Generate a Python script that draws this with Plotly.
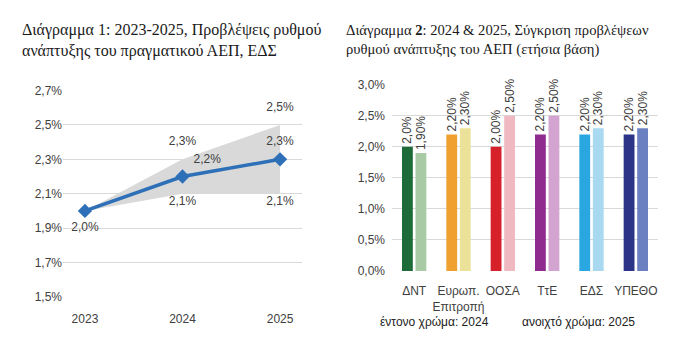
import plotly.graph_objects as go

# ---- Chart 1 data ----
years = ["2023", "2024", "2025"]
central = [2.0, 2.2, 2.3]
upper = [2.0, 2.3, 2.5]
lower = [2.0, 2.1, 2.1]
central_labels = ["2,0%", "2,2%", "2,3%"]
upper_labels = ["", "2,3%", "2,5%"]
lower_labels = ["", "2,1%", "2,1%"]
left_ticks = [1.5, 1.7, 1.9, 2.1, 2.3, 2.5, 2.7]
left_tick_labels = ["1,5%", "1,7%", "1,9%", "2,1%", "2,3%", "2,5%", "2,7%"]

# ---- Chart 2 data ----
institutions = ["ΔΝΤ", "Ευρωπ.<br>Επιτροπή", "ΟΟΣΑ", "ΤτΕ", "ΕΔΣ", "ΥΠΕΘΟ"]
f2024 = [2.0, 2.2, 2.0, 2.2, 2.2, 2.2]
f2025 = [1.9, 2.3, 2.5, 2.5, 2.3, 2.3]
labels2024 = ["2,0%", "2,20%", "2,00%", "2,20%", "2,20%", "2,20%"]
labels2025 = ["1,90%", "2,30%", "2,50%", "2,50%", "2,30%", "2,30%"]
colors2024 = ["#1d6b38", "#f0a02e", "#d7212a", "#8f2a8f", "#2aa7e1", "#2b3486"]
colors2025 = ["#a8caa4", "#ece199", "#f0b9c1", "#d4a4d1", "#a9d9f1", "#6b80c1"]
right_ticks = [0, 0.5, 1.0, 1.5, 2.0, 2.5, 3.0]
right_tick_labels = ["0,0%", "0,5%", "1,0%", "1,5%", "2,0%", "2,5%", "3,0%"]

TXT = "#404040"
SANS = "Liberation Sans"
SERIF = "Liberation Serif"
GRID = "#d9d9d9"

fig = go.Figure()

# band
fig.add_trace(go.Scatter(x=years, y=lower, mode="lines", line=dict(width=0, color=GRID),
                         xaxis="x", yaxis="y", showlegend=False, hoverinfo="skip"))
fig.add_trace(go.Scatter(x=years, y=upper, mode="lines", line=dict(width=0, color=GRID),
                         fill="tonexty", fillcolor="#d9d9d9",
                         xaxis="x", yaxis="y", showlegend=False, hoverinfo="skip"))
# central line
fig.add_trace(go.Scatter(x=years, y=central, mode="lines+markers",
                         line=dict(color="#2e70b8", width=3.5),
                         marker=dict(symbol="diamond", size=11, color="#2e70b8"),
                         xaxis="x", yaxis="y", showlegend=False))
# labels
fig.add_trace(go.Scatter(x=years, y=upper, mode="markers+text", text=upper_labels,
                         textposition="top center", marker=dict(size=16, color="rgba(0,0,0,0)"),
                         textfont=dict(family=SANS, size=12, color=TXT),
                         xaxis="x", yaxis="y", showlegend=False, hoverinfo="skip", cliponaxis=False))
fig.add_trace(go.Scatter(x=years, y=lower, mode="markers+text", text=lower_labels,
                         textposition="bottom center", marker=dict(size=2, color="rgba(0,0,0,0)"),
                         textfont=dict(family=SANS, size=12, color=TXT),
                         xaxis="x", yaxis="y", showlegend=False, hoverinfo="skip", cliponaxis=False))
fig.add_trace(go.Scatter(x=years, y=central, mode="markers+text", text=central_labels,
                         textposition=["bottom center", "top right", "top center"],
                         marker=dict(size=16, color="rgba(0,0,0,0)"),
                         textfont=dict(family=SANS, size=12, color=TXT),
                         xaxis="x", yaxis="y", showlegend=False, hoverinfo="skip", cliponaxis=False))

# bars
fig.add_trace(go.Bar(x=institutions, y=f2024, marker=dict(color=colors2024, line=dict(width=0)),
                     text=labels2024, textposition="outside", textangle=-90, constraintext="none",
                     textfont=dict(family=SANS, size=12, color=TXT), cliponaxis=False,
                     xaxis="x2", yaxis="y2", showlegend=False))
fig.add_trace(go.Bar(x=institutions, y=f2025, marker=dict(color=colors2025, line=dict(width=0)),
                     text=labels2025, textposition="outside", textangle=-90, constraintext="none",
                     textfont=dict(family=SANS, size=12, color=TXT), cliponaxis=False,
                     xaxis="x2", yaxis="y2", showlegend=False))

axis_common = dict(showline=False, zeroline=False, ticks="",
                   tickfont=dict(family=SANS, size=12, color=TXT))

fig.update_layout(
    width=700, height=350, margin=dict(l=0, r=0, t=0, b=0),
    paper_bgcolor="white", plot_bgcolor="white",
    barmode="group", bargap=0.39, bargroupgap=0.2,
    xaxis=dict(domain=[63/700, 302/700], anchor="y", showgrid=False, tickangle=0,
               ticklabelstandoff=13, **axis_common),
    yaxis=dict(domain=[48/350, 263/350], anchor="x", range=[1.5, 2.7],
               tickvals=left_ticks, ticktext=left_tick_labels,
               showgrid=True, gridcolor=GRID, gridwidth=1, **axis_common),
    xaxis2=dict(domain=[392/700, 658/700], anchor="y2", showgrid=False, tickangle=0,
                ticklabelstandoff=11, **axis_common),
    yaxis2=dict(domain=[75/350, 269/350], anchor="x2", range=[0, 3.0],
                tickvals=right_ticks, ticktext=right_tick_labels, ticklabelstandoff=6,
                showgrid=True, gridcolor=GRID, gridwidth=1, **axis_common),
    annotations=[
        dict(text="Διάγραμμα 1: 2023-2025, Προβλέψεις ρυθμού<br>ανάπτυξης του πραγματικού ΑΕΠ, ΕΔΣ",
             xref="paper", yref="paper", x=20/700, y=1-13/350, xanchor="left", yanchor="top",
             align="left", showarrow=False, font=dict(family=SERIF, size=16, color="#1a1a1a")),
        dict(text="Διάγραμμα <b>2</b>: 2024 &amp; 2025, Σύγκριση προβλέψεων<br>ρυθμού ανάπτυξης του ΑΕΠ (ετήσια βάση)",
             xref="paper", yref="paper", x=344/700, y=1-14/350, xanchor="left", yanchor="top",
             align="left", showarrow=False, font=dict(family=SERIF, size=14.6, color="#1a1a1a")),
        dict(text="έντονο χρώμα: 2024", xref="paper", yref="paper", x=378/700, y=1-328/350,
             xanchor="left", yanchor="middle", showarrow=False,
             font=dict(family=SANS, size=12, color="#222")),
        dict(text="ανοιχτό χρώμα: 2025", xref="paper", yref="paper", x=520/700, y=1-328/350,
             xanchor="left", yanchor="middle", showarrow=False,
             font=dict(family=SANS, size=12, color="#222")),
    ],
)

fig.write_html("out.html")
